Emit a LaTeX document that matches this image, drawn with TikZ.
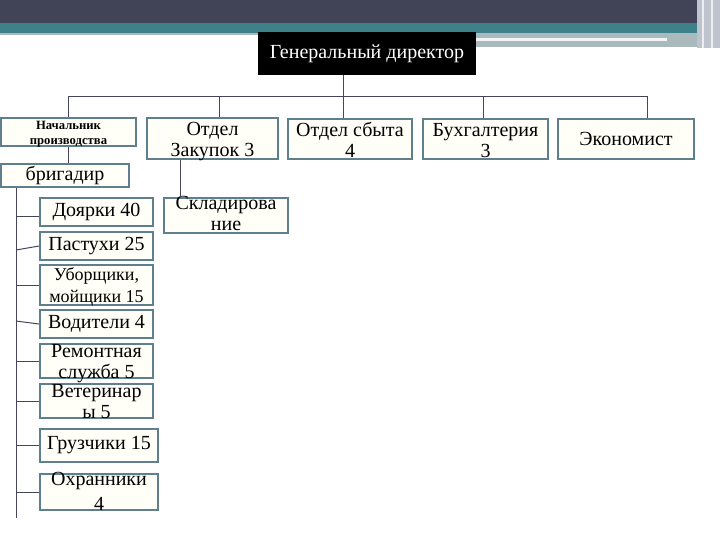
\documentclass[tikz,border=0pt]{standalone}
\usepackage{fontspec}
\setmainfont{Liberation Serif}
\usepackage{tikz}

\definecolor{topband}{HTML}{414456}
\definecolor{tealband}{HTML}{3F8189}
\definecolor{paleband}{HTML}{A9B9BC}
\definecolor{sidestrip}{HTML}{BFC3CD}
\definecolor{boxline}{HTML}{5E7F8E}
\definecolor{boxfill}{HTML}{FFFFF8}
\definecolor{wirecol}{HTML}{45455C}

\tikzset{
  box/.style={draw=boxline, line width=1.5pt, fill=boxfill, inner sep=0pt,
    align=center, anchor=north west, font=\fontsize{15}{15.75}\selectfont},
  link/.style={draw=wirecol, line width=0.75pt},
}

\begin{document}
\begin{tikzpicture}[x=0.75pt,y=0.75pt,yscale=-1,xscale=1]
\useasboundingbox (0,0) rectangle (720,540);

%Shape: Rectangle (bands on top)
\fill [topband] (0,0) rectangle (720,23) ;
\fill [tealband] (0,23) rectangle (720,33) ;
\fill [paleband] (0,33) rectangle (258,35) ;
\fill [paleband] (474,33) rectangle (697,47) ;
\fill [white!85!paleband] (474,38) rectangle (667,41) ;
\fill [sidestrip] (697,0) rectangle (720,48) ;
\draw [white!70!sidestrip, line width=1.5pt] (703,0) -- (703,48) (712,0) -- (712,48) ;

% Text Node
\draw (258,32) node [box, draw=black, fill=black, text=white, minimum width=162pt, minimum height=30.75pt] (dir) {Генеральный директор};
% Text Node
\draw (0,117) node [box, minimum width=101.25pt, minimum height=21pt, font=\fontsize{9.5}{11.25}\selectfont\bfseries, text height=19.5pt, text depth=1.5pt] (nach) {Начальник\\производства};
% Text Node
\draw (0,163) node [box, minimum width=96pt, minimum height=17.25pt] (brig) {бригадир};
% Text Node
\draw (146,117) node [box, minimum width=98.25pt, minimum height=30.75pt, text height=28.5pt, text depth=2.25pt] (zak) {Отдел\\Закупок 3};
% Text Node
\draw (163,197) node [box, minimum width=93pt, minimum height=26.25pt, text height=24pt, text depth=2.25pt] (sklad) {Складирова\\ние};
% Text Node
\draw (287,118) node [box, minimum width=93pt, minimum height=30pt, text height=28.5pt, text depth=1.5pt] (sbyt) {Отдел сбыта\\4};
% Text Node
\draw (422,118) node [box, minimum width=93.75pt, minimum height=30pt, text height=28.5pt, text depth=1.5pt] (buh) {Бухгалтерия\\3};
% Text Node
\draw (557,118) node [box, minimum width=102pt, minimum height=30pt] (econ) {Экономист};

% Text Node
\draw (39,197) node [box, minimum width=84.75pt, minimum height=21pt] (doyarki) {Доярки 40};
% Text Node
\draw (39,231) node [box, minimum width=84.75pt, minimum height=21pt] (pastuhi) {Пастухи 25};
% Text Node
\draw (39,264) node [box, minimum width=84.75pt, minimum height=30pt, font=\fontsize{13.5}{16.5}\selectfont, text height=27.75pt, text depth=2.25pt] (uborsh) {Уборщики,\\мойщики 15};
% Text Node
\draw (39,309) node [box, minimum width=84.75pt, minimum height=21pt] (voditeli) {Водители 4};
% Text Node
\draw (39,343) node [box, minimum width=84.75pt, minimum height=25.5pt, text height=25.5pt, text depth=0pt] (remont) {Ремонтная\\служба 5};
% Text Node
\draw (39,383) node [box, minimum width=84.75pt, minimum height=24.75pt, text height=25.5pt, text depth=-0.75pt] (veter) {Ветеринар\\ы 5};
% Text Node
\draw (39,428) node [box, minimum width=88.5pt, minimum height=24.75pt] (gruz) {Грузчики 15};
% Text Node
\draw (39,473) node [box, minimum width=88.5pt, minimum height=24.75pt, font=\fontsize{15}{18.75}\selectfont, text height=27pt, text depth=-2.25pt] (ohran) {Охранники\\4};

%Straight Lines
\coordinate (j1) at (68,96) ;
\coordinate (j2) at (219,96) ;
\coordinate (j3) at (343,96) ;
\coordinate (j4) at (483,96) ;
\coordinate (j5) at (647,96) ;
\coordinate (k) at (180,158) ;
\coordinate (spine) at (16,186) ;
\coordinate (spineEnd) at (16,518) ;

\draw [link] (j1) -- (j5) ;
\draw [link] (j1) -- (nach.north -| j1) ;
\draw [link] (j2) -- (zak.north -| j2) ;
\draw [link] (dir.south -| j3) -- (sbyt.north -| j3) ;
\draw [link] (j4) -- (buh.north -| j4) ;
\draw [link] (j5) -- (econ.north -| j5) ;
\draw [link] (nach.south -| j1) -- (brig.north -| j1) ;
\draw [link] (zak.south -| k) -- (sklad.north -| k) ;
\draw [link] (brig.south -| spine) -- (spineEnd) ;

\draw [link] ([yshift=3pt]doyarki.west -| spine) -- ([yshift=3pt]doyarki.west) ;
\draw [link] ([yshift=3pt]pastuhi.west -| spine) -- (pastuhi.west) ;
\draw [link] (uborsh.west -| spine) -- (uborsh.west) ;
\draw [link] ([yshift=-2.25pt]voditeli.west -| spine) -- (voditeli.west) ;
\draw [link] (remont.west -| spine) -- (remont.west) ;
\draw [link] (veter.west -| spine) -- (veter.west) ;
\draw [link] (gruz.west -| spine) -- (gruz.west) ;
\draw [link] (ohran.west -| spine) -- (ohran.west) ;

\end{tikzpicture}
\end{document}
